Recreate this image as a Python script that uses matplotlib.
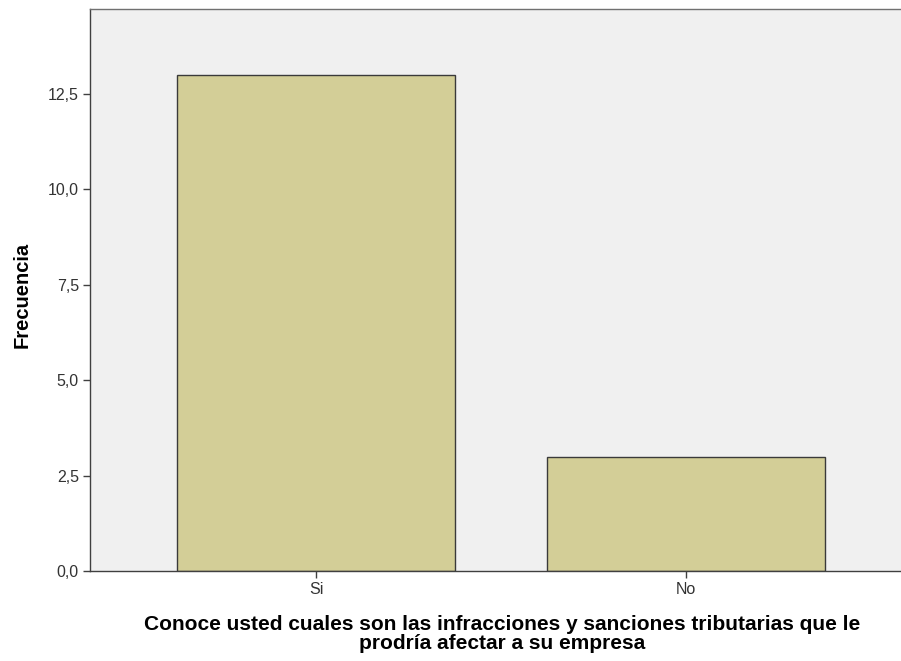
import matplotlib
matplotlib.use("Agg")
import matplotlib.pyplot as plt
from matplotlib.ticker import FuncFormatter

plt.rcParams['font.family'] = ['Liberation Sans', 'DejaVu Sans']

# Data
categorias = ["Si", "No"]
frecuencias = [13, 3]
y_ticks = [0, 2.5, 5, 7.5, 10, 12.5]

fig = plt.figure(figsize=(9.01, 6.61), dpi=100)
ax = fig.add_axes([90 / 901, 90 / 661, 811 / 901, 562 / 661])
ax.set_facecolor("#F0F0F0")

x = list(range(len(categorias)))
ax.bar(x, frecuencias, width=0.75, color="#D3CE97", edgecolor="#3A3A3A",
       linewidth=1.0, zorder=2)

ax.set_xlim(-0.611, 1.581)
ax.set_ylim(0, 14.73)
ax.set_yticks(y_ticks)
ax.yaxis.set_major_formatter(FuncFormatter(lambda v, p: f"{v:.1f}".replace(".", ",")))
ax.set_xticks(x)
ax.set_xticklabels(categorias)

ax.spines["right"].set_visible(False)
for s in ["left", "bottom", "top"]:
    ax.spines[s].set_color("#404040")
    ax.spines[s].set_linewidth(1.0)
ax.spines["top"].set_color("#707070")

ax.tick_params(axis="both", direction="out", length=5, width=1.0,
               color="#404040", labelsize=11.5, labelcolor="#333333", pad=3)

# y axis label
fig.text(22 / 901, 1 - 295 / 661, "Frecuencia", rotation=90,
         ha="center", va="center", fontsize=14.5, fontweight="bold")

# x axis label
fig.text(502 / 901, 1 - 634 / 661,
         "Conoce usted cuales son las infracciones y sanciones tributarias que le\nprodría afectar a su empresa",
         ha="center", va="center", fontsize=15, fontweight="bold", linespacing=1.0)

fig.savefig("out.png", dpi=100)
